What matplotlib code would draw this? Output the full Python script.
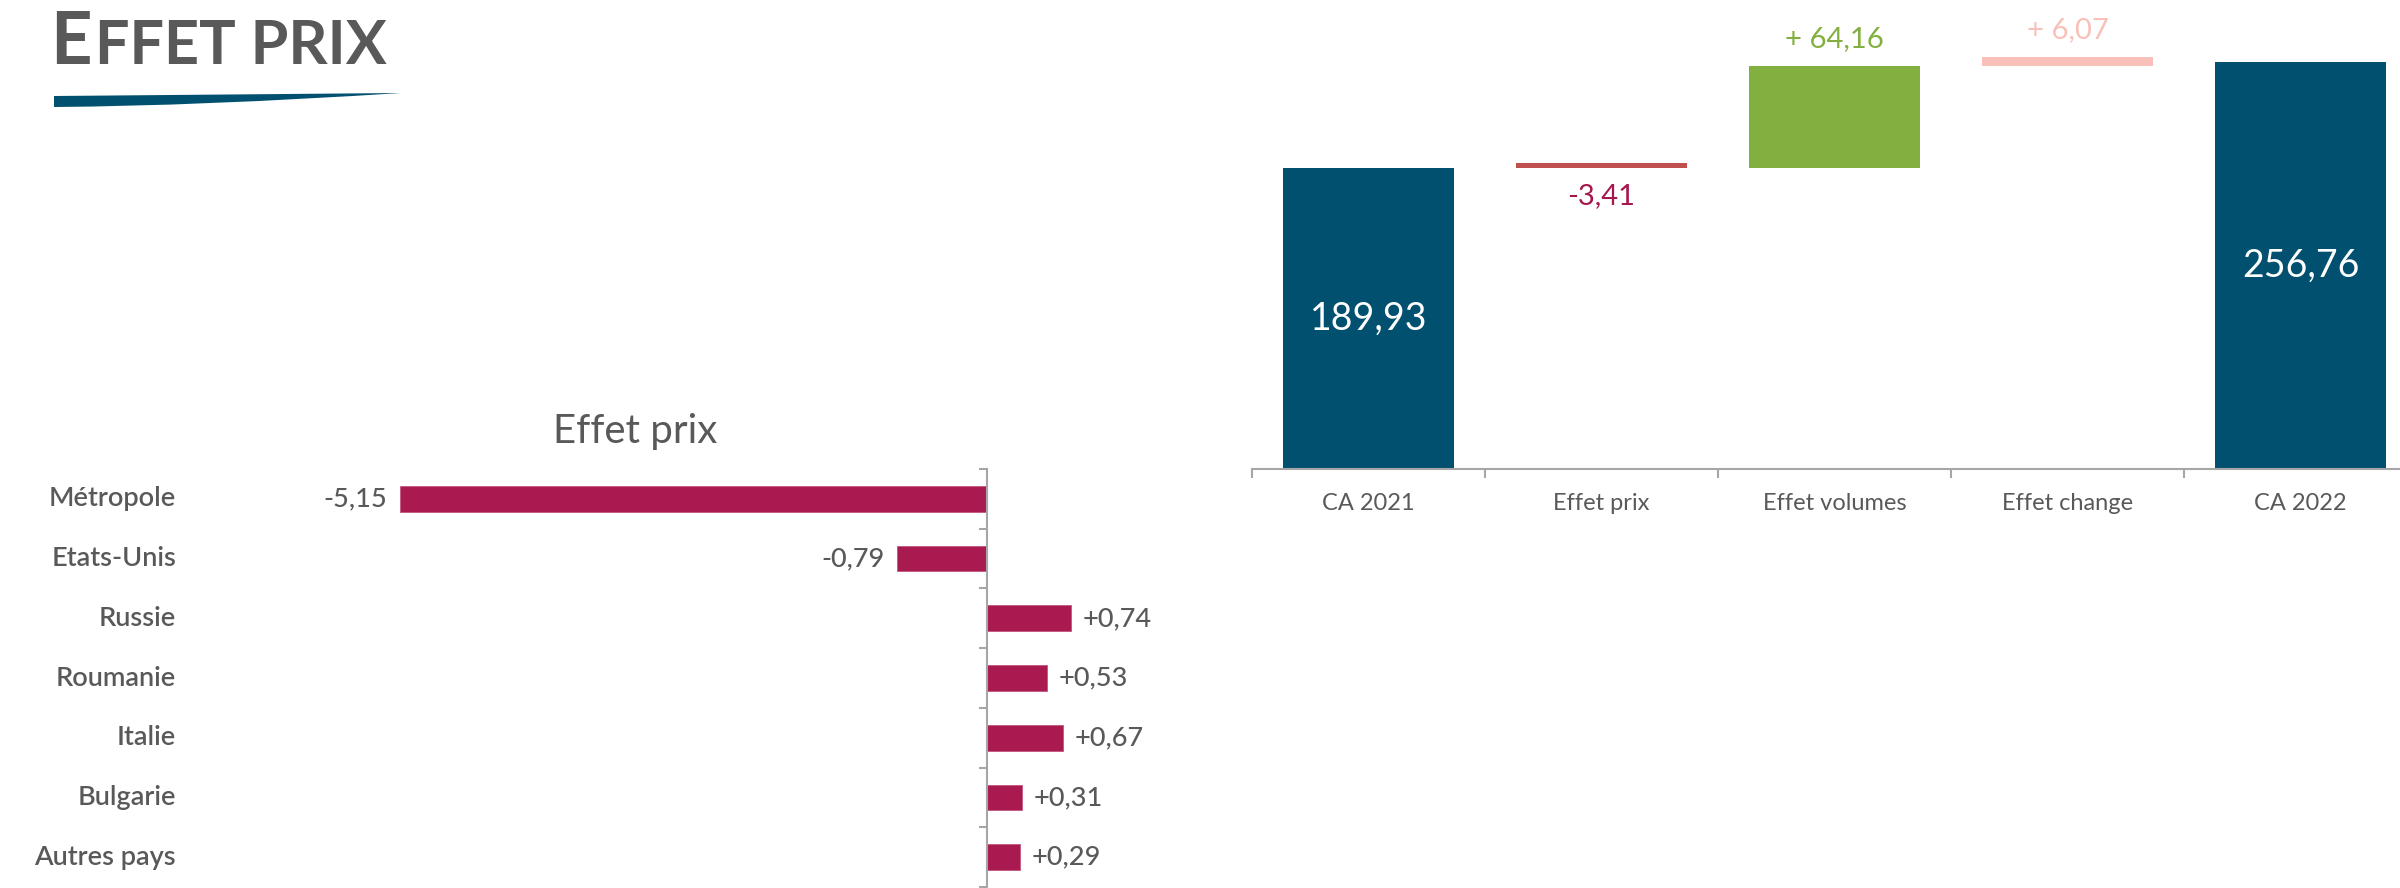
import matplotlib
matplotlib.use('Agg')
import matplotlib.pyplot as plt
import matplotlib.transforms as mtransforms
from matplotlib.path import Path
from matplotlib.patches import PathPatch

# ---------------- data ----------------
countries = ['Métropole', 'Etats-Unis', 'Russie', 'Roumanie', 'Italie', 'Bulgarie', 'Autres pays']
price_effects = [-5.15, -0.79, 0.74, 0.53, 0.67, 0.31, 0.29]

wf_categories = ['CA 2021', 'Effet prix', 'Effet volumes', 'Effet change', 'CA 2022']
ca_2021 = 189.93
effet_prix = -3.41
effet_volumes = 64.16
effet_change = 6.07
ca_2022 = 256.76

# ---------------- style ----------------
W, H, DPI = 2400, 888, 100
FONT = ['Lato', 'DejaVu Sans']
plt.rcParams['font.family'] = FONT
GREY = '#595959'
AXGREY = '#A6A6A6'
BLUE = '#02506F'
GREEN = '#82B040'
RED = '#C0504D'
PINK = '#F8C0B8'
CRIMSON = '#A91B50'


def fr(v):
    return f'{abs(v):.2f}'.replace('.', ',')


def rect(left, top, right, bottom):
    return [left / W, 1 - bottom / H, (right - left) / W, (bottom - top) / H]


fig = plt.figure(figsize=(W / DPI, H / DPI), dpi=DPI)
fig.patch.set_facecolor('white')

# ---------------- title ----------------
fig.text(50 / W, 1 - 64 / H, 'E', fontsize=52, fontweight='bold', color=GREY, ha='left', va='baseline')
fig.text(95 / W, 1 - 64 / H, 'FFET PRIX', fontsize=44, fontweight='bold',
         color=GREY, ha='left', va='baseline')
verts = [(54, 96), (401, 93), (200, 106), (54, 107), (54, 96)]
codes = [Path.MOVETO, Path.LINETO, Path.CURVE3, Path.CURVE3, Path.CLOSEPOLY]
pix = mtransforms.Affine2D().scale(1 / W, -1 / H).translate(0, 1) + fig.transFigure
fig.patches.append(PathPatch(Path(verts, codes), facecolor=BLUE, edgecolor='none', transform=pix))

# ---------------- waterfall ----------------
ax = fig.add_axes(rect(1252, 0, 2417, 469))
k = 1.585
ax.set_xlim(-0.5, 4.5)
ax.set_ylim(0, 469 / k)
bw = 0.735
ax.bar(0, ca_2021, width=bw, color=BLUE)
ax.bar(1, abs(effet_prix), bottom=ca_2021, width=bw, color=RED)
ax.bar(2, effet_volumes, bottom=ca_2021, width=bw, color=GREEN)
ax.bar(3, effet_change, bottom=ca_2021 + effet_volumes, width=bw, color=PINK)
ax.bar(4, ca_2022, width=bw, color=BLUE)

ax.text(0, ca_2021 / 2, fr(ca_2021), color='white', fontsize=27, ha='center', va='center')
ax.text(4, ca_2022 / 2, fr(ca_2022), color='white', fontsize=27, ha='center', va='center')
ax.annotate('-' + fr(effet_prix), xy=(1, ca_2021), xytext=(0, -20), textcoords='offset points',
            ha='center', va='center', fontsize=21, color='#A6174F')
ax.annotate('+ ' + fr(effet_volumes), xy=(2, ca_2021 + effet_volumes), xytext=(0, 19.5),
            textcoords='offset points', ha='center', va='center', fontsize=21, color=GREEN)
ax.annotate('+ ' + fr(effet_change), xy=(3, ca_2021 + effet_volumes + effet_change), xytext=(0, 19.5),
            textcoords='offset points', ha='center', va='center', fontsize=21, color=PINK)

for s in ['top', 'right', 'left']:
    ax.spines[s].set_visible(False)
ax.spines['bottom'].set_color(AXGREY)
ax.spines['bottom'].set_linewidth(1.5)
ax.set_yticks([])
ax.set_xticks(range(len(wf_categories)))
ax.set_xticklabels(wf_categories, fontsize=17, color=GREY)
ax.set_xticks([i - 0.5 for i in range(len(wf_categories) + 1)], minor=True)
ax.tick_params(axis='x', which='major', length=0, pad=17)
ax.tick_params(axis='x', which='minor', length=6.5, width=1.5, color=AXGREY)

# ---------------- country bars ----------------
ax2 = fig.add_axes(rect(200, 469, 1230, 887))
s = 114.0
ax2.set_xlim((200 - 987) / s, (1230 - 987) / s)
ax2.set_ylim(len(countries) - 0.5, -0.5)
ypos = list(range(len(countries)))
ax2.barh(ypos, price_effects, height=0.43, color=CRIMSON, edgecolor='#C4567E', linewidth=0.6)
for s_ in ['top', 'right', 'bottom']:
    ax2.spines[s_].set_visible(False)
ax2.spines['left'].set_position(('data', 0))
ax2.spines['left'].set_color(AXGREY)
ax2.spines['left'].set_linewidth(1.5)
ax2.set_xticks([])
ax2.set_yticks([i - 0.5 for i in range(len(countries) + 1)])
ax2.set_yticklabels([])
ax2.tick_params(axis='y', length=6, width=1.5, color=AXGREY, direction='out')

blend = mtransforms.blended_transform_factory(fig.transFigure, ax2.transData)
for i, (c, v) in enumerate(zip(countries, price_effects)):
    ax2.text(176 / W, i, c, transform=blend, ha='right', va='center', fontsize=19.5,
             fontweight='semibold', color=GREY)
    lab = ('+' if v > 0 else '-') + fr(v)
    ax2.annotate(lab, xy=(v, i), xytext=(8 if v > 0 else -9, 0), textcoords='offset points',
                 ha='left' if v > 0 else 'right', va='center', fontsize=19.5, color=GREY,
                 fontweight='medium')

fig.text(635 / W, 1 - 443 / H, 'Effet prix', fontsize=29, color=GREY, ha='center', va='baseline')

fig.savefig('out.png', dpi=DPI, facecolor='white')
